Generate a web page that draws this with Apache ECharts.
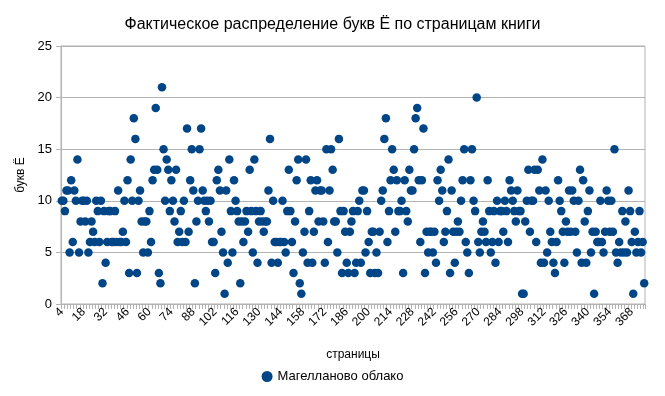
<!DOCTYPE html>
<html><head><meta charset="utf-8">
<script src="https://cdn.jsdelivr.net/npm/echarts@6/dist/echarts.min.js"></script>
<style>html,body{margin:0;padding:0;background:#fff}#c{width:665px;height:396px}</style>
</head><body><div id="c"></div>
<script>
const title = 'Фактическое распределение букв Ё по страницам книги';
const seriesName = 'Магелланово облако';
const xName = 'страницы';
const yName = 'букв Ё';
const firstPage = 4;
const lastPage = 376;
const pages = [];
for (let p = firstPage; p <= lastPage; p++) pages.push(String(p));
const letters = [
 10,10,9,11,11,5,12,6,11,10,14,5,8,10,10,8,10,5,6,8,7,6,10,9,6,10,2,9,4,
 6,9,9,6,6,9,6,11,6,6,7,10,6,12,3,14,10,18,16,3,10,11,8,5,8,8,5,9,
 6,12,13,19,13,3,2,21,15,10,14,13,9,12,10,8,13,6,7,9,6,10,6,17,7,12,15,11,2,8,10,15,17,
 11,10,9,10,8,10,6,6,3,12,13,11,7,5,1,11,4,14,9,5,12,10,9,8,2,8,6,8,9,7,13,
 9,5,14,9,4,8,9,8,7,8,8,11,16,4,10,6,6,4,6,6,10,6,5,9,13,9,6,3,
 8,12,14,2,1,5,7,14,4,9,12,4,7,11,12,8,11,11,8,4,15,6,11,15,13,8,8,5,16,9,3,9,7,4,
 3,7,8,9,3,4,9,10,4,11,11,5,9,6,3,7,7,3,5,3,7,10,11,16,18,6,9,12,15,13,
 7,12,9,9,10,3,12,9,8,13,11,11,15,18,19,12,6,12,17,3,7,5,7,7,5,7,4,12,10,13,11,6,
 7,9,14,3,11,7,4,7,8,7,10,12,15,6,5,3,12,15,10,9,20,6,5,7,8,7,6,12,9,5,
 6,9,4,10,6,9,9,7,10,9,6,12,11,10,9,8,11,9,9,1,1,8,10,13,7,10,10,13,6,13,11,4,14,
 4,11,5,10,7,6,4,3,6,12,10,9,7,4,8,7,11,7,11,10,7,5,10,13,4,12,8,4,9,11,5,
 7,1,7,6,6,10,6,5,7,11,10,7,10,7,15,5,4,6,5,9,5,8,5,11,9,6,1,7,5,6,9,5,6,2
];
const yTicks = [0, 5, 10, 15, 20, 25];

const font = 'Liberation Sans, Arial, sans-serif';
const chart = echarts.init(document.getElementById('c'), null, {renderer: 'canvas'});
chart.setOption({
  animation: false,
  backgroundColor: '#ffffff',
  title: {
    text: title, left: 'center', top: 12,
    textStyle: {fontFamily: font, fontSize: 16, fontWeight: 'normal', color: '#000'}
  },
  legend: {
    bottom: 8, left: 'center', icon: 'circle', itemWidth: 11, itemHeight: 11, itemGap: 6,
    textStyle: {fontFamily: font, fontSize: 13, color: '#000'},
    data: [seriesName]
  },
  grid: {left: 61, right: 20, top: 46, bottom: 92, show: true, borderColor: '#b3b3b3', borderWidth: 1},
  xAxis: {
    type: 'category', data: pages, boundaryGap: true,
    name: xName, nameLocation: 'middle', nameGap: 45,
    nameTextStyle: {fontFamily: font, fontSize: 12, color: '#000'},
    axisLine: {lineStyle: {color: '#b3b3b3'}},
    axisTick: {show: true, interval: 1, length: 5, lineStyle: {color: '#b3b3b3'}},
    axisLabel: {interval: 13, rotate: 45, fontFamily: font, fontSize: 12, color: '#000', margin: 6},
    splitLine: {show: false}
  },
  yAxis: {
    type: 'value', min: yTicks[0], max: yTicks[yTicks.length - 1], interval: 5,
    name: yName, nameLocation: 'middle', nameGap: 33, nameRotate: 90,
    nameTextStyle: {fontFamily: font, fontSize: 12, color: '#000'},
    axisLine: {show: true, lineStyle: {color: '#b3b3b3'}},
    axisTick: {show: true, length: 5, lineStyle: {color: '#b3b3b3'}},
    axisLabel: {fontFamily: font, fontSize: 13, color: '#000', margin: 9},
    splitLine: {show: true, lineStyle: {color: '#b3b3b3', width: 1}}
  },
  series: [{
    name: seriesName, type: 'scatter', data: letters,
    symbol: 'circle', symbolSize: 8.5,
    itemStyle: {color: '#004586', opacity: 1}
  }]
});
</script></body></html>
